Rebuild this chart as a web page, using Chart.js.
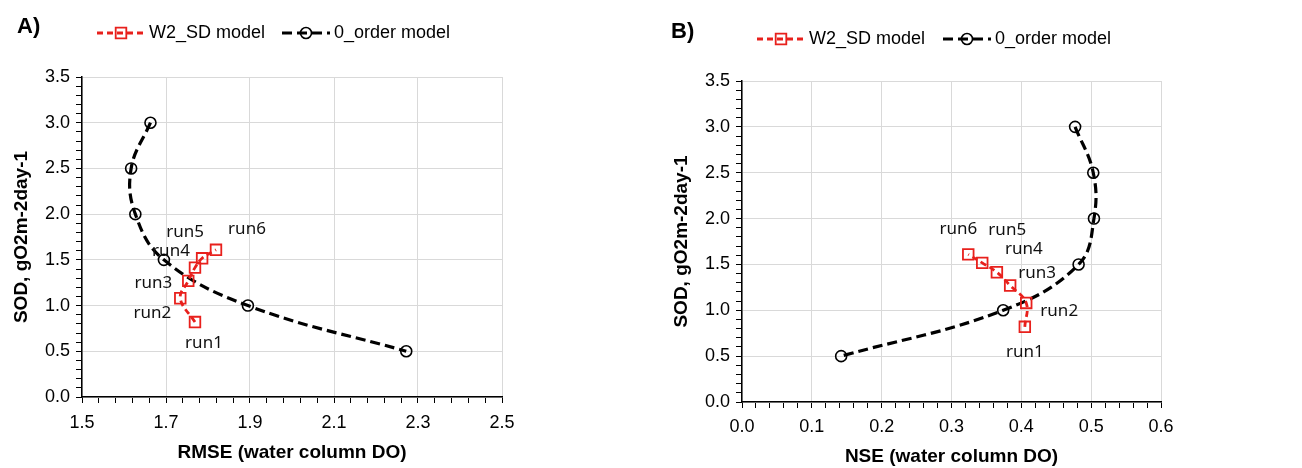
<!DOCTYPE html>
<html>
<head>
<meta charset="utf-8">
<script src="https://cdn.jsdelivr.net/npm/chart.js@4.4.1/dist/chart.umd.min.js"></script>
<style>
  html, body { margin: 0; padding: 0; background: #fff; }
  #wrap { position: relative; width: 1302px; height: 468px; }
  .panel { position: absolute; top: 0; width: 651px; height: 468px; }
</style>
</head>
<body>
<div id="wrap">
  <div class="panel" style="left:0"><canvas id="chartA" width="651" height="468"></canvas></div>
  <div class="panel" style="left:651px"><canvas id="chartB" width="651" height="468"></canvas></div>
</div>
<script>
// data
const runLabels = ["run1", "run2", "run3", "run4", "run5", "run6"];
const seriesNames = ["W2_SD model", "0_order model"];

const w2Sod = [0.82, 1.08, 1.27, 1.415, 1.517, 1.61];
const w2Rmse = [1.769, 1.734, 1.753, 1.769, 1.786, 1.819];
const w2Nse = [0.405, 0.407, 0.384, 0.365, 0.344, 0.324];

const orderSod = [3.0, 2.5, 2.0, 1.5, 1.0, 0.5];
const orderRmse = [1.663, 1.617, 1.627, 1.695, 1.895, 2.272];
const orderNse = [0.477, 0.503, 0.504, 0.482, 0.374, 0.142];

// axis ranges: [min, max, minor step, major step]
const sodAxis = [0, 3.5, 0.1, 0.5];
const rmseAxis = [1.5, 2.5, 0.04, 0.2];
const nseAxis = [0, 0.6, 0.02, 0.1];

const RED = "#e8201c";
const GRID = "#d9d9d9";

const toPoints = (xs, ys) => xs.map((x, i) => ({ x: x, y: ys[i] }));

function isMajor(v, axis) {
  const k = (v - axis[0]) / axis[3];
  return Math.abs(k - Math.round(k)) < 1e-6;
}

function makeAxis(axis, title, o) {
  return {
    type: "linear",
    min: axis[0],
    max: axis[1],
    title: {
      display: true,
      text: title,
      color: "#000",
      font: { family: "Liberation Sans", size: 19, weight: "bold" },
      padding: o.titlePad
    },
    ticks: {
      stepSize: axis[2],
      autoSkip: false,
      maxRotation: 0,
      color: "#000",
      padding: o.tickPad,
      font: { family: "Liberation Sans", size: 18 },
      callback: v => (isMajor(v, axis) ? v.toFixed(1) : "")
    },
    grid: {
      color: c => (c.tick && isMajor(c.tick.value, axis) ? GRID : "rgba(0,0,0,0)"),
      lineWidth: 1,
      tickColor: "#000",
      tickLength: 6
    },
    border: { color: "#000", width: 1.5 },
    afterFit: o.fit
  };
}

// run1..run6 text next to the W2_SD points
const runLabelPlugin = {
  id: "runLabels",
  afterDatasetsDraw(chart, args, opts) {
    const meta = chart.getDatasetMeta(0);
    const ctx = chart.ctx;
    ctx.save();
    ctx.font = '17px "Noto Sans"';
    ctx.fillStyle = "#111";
    ctx.textAlign = "center";
    ctx.textBaseline = "middle";
    meta.data.forEach((pt, i) => {
      const off = opts.offsets[i];
      ctx.fillText(runLabels[i], pt.x + off[0], pt.y + off[1]);
    });
    ctx.restore();
  }
};

// panel tag + excel-like legend
const panelPlugin = {
  id: "panelDeco",
  afterDraw(chart, args, opts) {
    const ctx = chart.ctx;
    ctx.save();
    ctx.fillStyle = "#000";
    ctx.textBaseline = "middle";
    ctx.textAlign = "left";
    ctx.font = 'bold 22px "Liberation Sans"';
    ctx.fillText(opts.tag, opts.tagX, opts.tagY);

    ctx.font = '18px "Liberation Sans"';
    chart.data.datasets.forEach((ds, i) => {
      const x0 = opts.legendX[i];
      const y = opts.legendY;
      ctx.strokeStyle = ds.borderColor;
      ctx.lineWidth = ds.borderWidth;
      ctx.setLineDash(ds.borderDash);
      ctx.beginPath();
      ctx.moveTo(x0, y);
      ctx.lineTo(x0 + 48, y);
      ctx.stroke();
      ctx.setLineDash([]);
      ctx.strokeStyle = ds.pointBorderColor;
      ctx.fillStyle = "rgba(255,255,255,0)";
      ctx.lineWidth = ds.pointBorderWidth;
      Chart.helpers.drawPoint(ctx, {
        pointStyle: ds.pointStyle,
        radius: ds.pointRadius,
        borderWidth: ds.pointBorderWidth,
        rotation: 0
      }, x0 + 24, y);
      ctx.fillStyle = "#000";
      ctx.fillText(ds.label, x0 + 52, y);
    });
    ctx.restore();
  }
};

function makeChart(id, w2X, orderX, xAxis, xTitle, lay) {
  return new Chart(document.getElementById(id), {
    type: "scatter",
    data: {
      datasets: [
        {
          label: seriesNames[0],
          data: toPoints(w2X, w2Sod),
          showLine: true,
          tension: 0.4,
          borderColor: RED,
          borderWidth: 2.8,
          borderDash: [6, 4],
          pointStyle: "rect",
          pointRadius: 7.5,
          pointBorderWidth: 1.8,
          pointBorderColor: RED,
          pointBackgroundColor: "rgba(255,255,255,0)"
        },
        {
          label: seriesNames[1],
          data: toPoints(orderX, orderSod),
          showLine: true,
          tension: 0.4,
          borderColor: "#000",
          borderWidth: 3.2,
          borderDash: [10, 5],
          pointStyle: "circle",
          pointRadius: 5.5,
          pointBorderWidth: 1.6,
          pointBorderColor: "#000",
          pointBackgroundColor: "rgba(255,255,255,0)"
        }
      ]
    },
    options: {
      responsive: false,
      animation: false,
      layout: { padding: { top: lay.top, right: lay.right, left: 0, bottom: 0 } },
      scales: {
        x: makeAxis(xAxis, xTitle, {
          titlePad: { top: 0, bottom: lay.xTitlePad },
          tickPad: lay.xTickPad,
          fit: s => { s.height = lay.xHeight; }
        }),
        y: makeAxis(sodAxis, "SOD, gO2m-2day-1", {
          titlePad: { top: lay.yTitlePad, bottom: 0 },
          tickPad: 6,
          fit: s => { s.width = lay.yWidth; }
        })
      },
      plugins: {
        legend: { display: false },
        tooltip: { enabled: false },
        runLabels: { offsets: lay.offsets },
        panelDeco: {
          tag: lay.tag, tagX: lay.tagX, tagY: lay.tagY,
          legendX: lay.legendX, legendY: lay.legendY
        }
      }
    },
    plugins: [runLabelPlugin, panelPlugin]
  });
}

makeChart("chartA", w2Rmse, orderRmse, rmseAxis, "RMSE (water column DO)", {
  top: 77, right: 149, xHeight: 71, yWidth: 82,
  xTitlePad: 4, yTitlePad: 10, xTickPad: 9,
  tag: "A)", tagX: 17, tagY: 27, legendX: [97, 282], legendY: 33,
  offsets: [[9, 21], [-28, 15], [-35, 2], [-24, -16], [-17, -26], [31, -21]]
});

makeChart("chartB", w2Nse, orderNse, nseAxis, "NSE (water column DO)", {
  top: 81, right: 141, xHeight: 66, yWidth: 91,
  xTitlePad: 0, yTitlePad: 19, xTickPad: 8,
  tag: "B)", tagX: 20, tagY: 32, legendX: [106, 292], legendY: 39,
  offsets: [[0, 25], [33, 8], [27, -12], [27, -23], [25, -33], [-10, -25]]
});
</script>
</body>
</html>
